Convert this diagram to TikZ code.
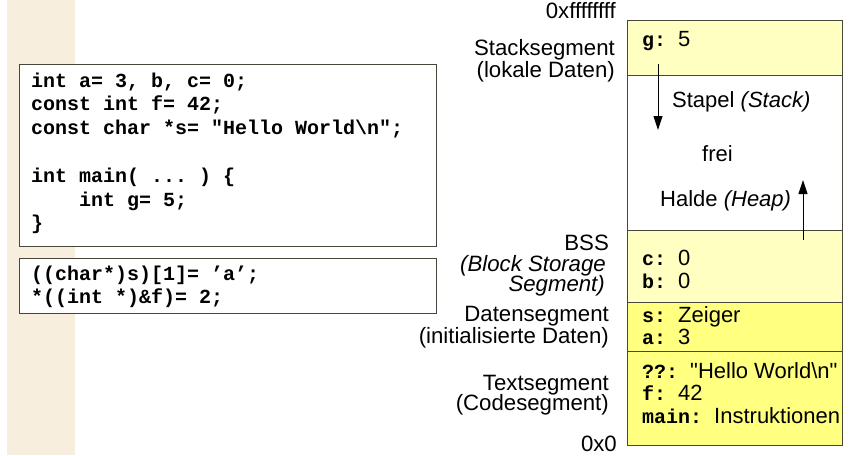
\documentclass[tikz,border=0pt]{standalone}
\usepackage{fontspec}
\setmainfont{Liberation Sans}
\setmonofont{Liberation Mono}
\newfontfamily\plainsans{Liberation Sans}
\usetikzlibrary{arrows.meta}
\definecolor{beige}{RGB}{247,238,221}
\definecolor{lightyel}{RGB}{255,255,194}
\definecolor{brightyel}{RGB}{255,255,128}
\definecolor{framec}{RGB}{70,70,60}
\newcommand{\ml}[1]{{\fontsize{20}{20}\selectfont\ttfamily\bfseries #1~}}
\begin{document}
\begin{tikzpicture}[x=1pt,y=-1pt,
  codeline/.style={anchor=base west, inner sep=0pt, font=\fontsize{20}{24}\selectfont\ttfamily\bfseries},
  lbl/.style={anchor=base east, inner sep=0pt, text depth=0pt, font=\fontsize{22.2}{20}\selectfont},
  mem/.style={anchor=base west, inner sep=0pt, font=\fontsize{22}{20}\selectfont},
  codebox/.style={draw=framec, line width=1pt, fill=white},
  seg/.style={draw=framec, line width=1pt},
  growarrow/.style={line width=1pt, -{Triangle[length=14pt,width=9pt]}}
]
\useasboundingbox (0,0) rectangle (859,455);
% beige band
\fill[beige] (7,0) rectangle (75,455);
% code boxes
\draw[codebox] (19,64) rectangle (436,246);
\draw[codebox] (19,258) rectangle (436,313);
\node[codeline] (c1) at (31,87) {int a= 3, b, c= 0;};
\node[codeline] (c2) at (31,110.8) {const int f= 42;};
\node[codeline] (c3) at (31,134.6) {const char *s= "Hello World\textbackslash n";};
\node[codeline] (c4) at (31,182.2) {int main( ... ) \{};
\node[codeline] (c5) at (31,206) {\phantom{xxxx}int g= 5;};
\node[codeline] (c6) at (31,229.8) {\}};
\node[codeline] (d1) at (31,280) {((char*)s)[1]= ’a’;};
\node[codeline] (d2) at (31,303) {*((int *)\&f)= 2;};
% memory segments
\fill[lightyel] (627,20) rectangle (842,75);
\fill[white] (627,75) rectangle (842,230);
\fill[lightyel] (627,230) rectangle (842,302);
\fill[brightyel] (627,302) rectangle (842,351);
\fill[brightyel] (627,351) rectangle (842,445);
\draw[seg] (627,75) -- (842,75);
\draw[seg] (627,230) -- (842,230);
\draw[seg] (627,302) -- (842,302);
\draw[seg] (627,351) -- (842,351);
\draw[seg] (627,20) rectangle (842,445);
% memory contents
\node[mem] (mg) at (642,46) {\ml{g:}5};
\node[mem] (mst) at (672,107) {Stapel \textit{(Stack)}};
\node[mem] (mfr) at (702,161) {frei};
\node[mem] (mhe) at (660,206) {Halde \textit{(Heap)}};
\node[mem] (mc) at (642,265) {\ml{c:}0};
\node[mem] (mb) at (642,288) {\ml{b:}0};
\node[mem] (ms) at (642,322) {\ml{s:}Zeiger};
\node[mem] (ma) at (642,344) {\ml{a:}3};
\node[mem] (mh) at (642,378) {\ml{??:}{\plainsans "Hello World\textbackslash n"}};
\node[mem] (mf) at (642,400.5) {\ml{f:}42};
\node[mem] (mm) at (642,423) {\ml{main:}Instruktionen};
% arrows
\coordinate (sa1) at (658,64);
\coordinate (sa2) at (658,130);
\coordinate (ha1) at (803,240);
\coordinate (ha2) at (803,180);
\draw[growarrow] (sa1) -- (sa2);
\draw[growarrow] (ha1) -- (ha2);
% left labels
\node[lbl] (top) at (616,18) {0xffffffff};
\node[lbl] (l1) at (615,55.5) {Stacksegment};
\node[lbl] (l2) at (615,77.5) {(lokale Daten)};
\node[lbl] (l3) at (609,250) {BSS};
\node[lbl] (l4) at (606,271.5) {\textit{(Block Storage}};
\node[lbl] (l5) at (605,291.5) {\textit{Segment)}};
\node[lbl] (l6) at (609,321.5) {Datensegment};
\node[lbl] (l7) at (609,343) {(initialisierte Daten)};
\node[lbl] (l8) at (609,390) {Textsegment};
\node[lbl] (l9) at (609,410) {(Codesegment)};
\node[lbl] (bot) at (617,451) {0x0};
\end{tikzpicture}
\end{document}
